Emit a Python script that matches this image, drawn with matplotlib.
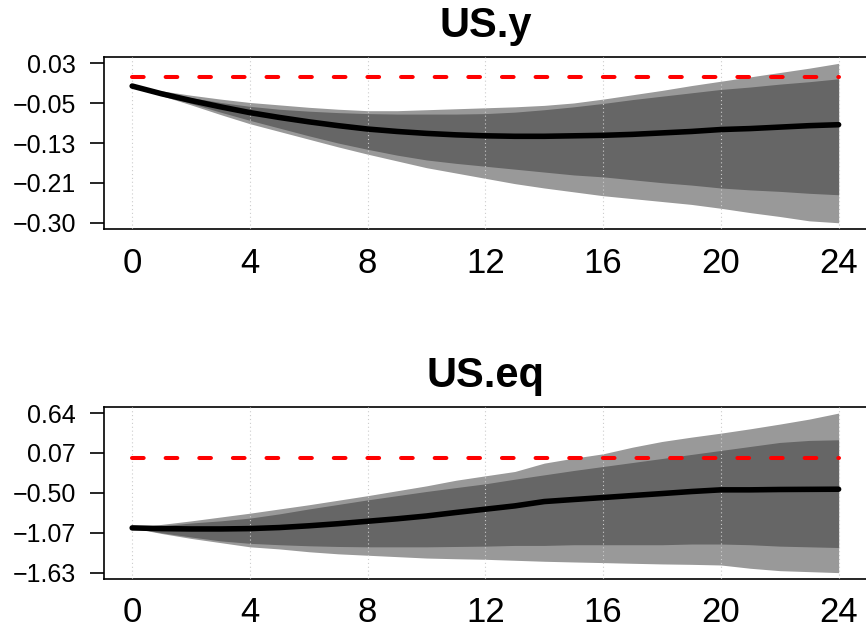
import numpy as np
import matplotlib
matplotlib.use("Agg")
import matplotlib.pyplot as plt

# horizons
steps = list(range(0, 25))
xticks = [0, 4, 8, 12, 16, 20, 24]

# US.y impulse response: median and two bands
usy_mid = [-0.019, -0.035, -0.049, -0.062, -0.074, -0.084, -0.093, -0.101, -0.108, -0.113, -0.117, -0.120,
           -0.122, -0.123, -0.123, -0.122, -0.121, -0.119, -0.116, -0.113, -0.109, -0.107, -0.104, -0.101, -0.099]
usy_hi68 = [-0.019, -0.032, -0.043, -0.053, -0.061, -0.067, -0.071, -0.074, -0.076, -0.077, -0.077, -0.077,
            -0.076, -0.073, -0.068, -0.062, -0.055, -0.047, -0.040, -0.033, -0.026, -0.021, -0.015, -0.010, -0.004]
usy_lo68 = [-0.019, -0.037, -0.055, -0.073, -0.090, -0.106, -0.122, -0.137, -0.150, -0.162, -0.172, -0.179,
            -0.185, -0.191, -0.197, -0.203, -0.207, -0.213, -0.219, -0.224, -0.230, -0.234, -0.237, -0.241, -0.244]
usy_hi95 = [-0.019, -0.029, -0.038, -0.046, -0.053, -0.058, -0.063, -0.067, -0.070, -0.070, -0.068, -0.066,
            -0.064, -0.062, -0.059, -0.054, -0.046, -0.037, -0.028, -0.018, -0.009, 0.000, 0.009, 0.018, 0.028]
usy_lo95 = [-0.019, -0.039, -0.058, -0.078, -0.097, -0.113, -0.129, -0.145, -0.160, -0.174, -0.188, -0.199,
            -0.210, -0.221, -0.230, -0.238, -0.246, -0.252, -0.258, -0.264, -0.272, -0.281, -0.289, -0.298, -0.302]
usy_ticklabels = ["0.03", "\u22120.05", "\u22120.13", "\u22120.21", "\u22120.30"]

# US.eq impulse response
useq_mid = [-1.000, -1.010, -1.015, -1.015, -1.010, -0.995, -0.970, -0.940, -0.905, -0.870, -0.830, -0.780,
            -0.733, -0.686, -0.624, -0.595, -0.567, -0.538, -0.510, -0.481, -0.457, -0.457, -0.452, -0.450, -0.448]
useq_hi68 = [-1.000, -0.970, -0.930, -0.900, -0.860, -0.800, -0.730, -0.665, -0.600, -0.540, -0.480, -0.425,
             -0.371, -0.305, -0.243, -0.181, -0.124, -0.067, -0.010, 0.048, 0.105, 0.162, 0.219, 0.248, 0.257]
useq_lo68 = [-1.000, -1.070, -1.130, -1.185, -1.220, -1.240, -1.255, -1.265, -1.270, -1.270, -1.270, -1.265,
             -1.260, -1.250, -1.250, -1.240, -1.240, -1.240, -1.240, -1.230, -1.230, -1.240, -1.260, -1.270, -1.280]
useq_hi95 = [-1.000, -0.950, -0.900, -0.845, -0.790, -0.730, -0.670, -0.605, -0.540, -0.470, -0.400, -0.320,
             -0.257, -0.195, -0.076, -0.005, 0.057, 0.152, 0.233, 0.295, 0.352, 0.414, 0.481, 0.552, 0.638]
useq_lo95 = [-1.000, -1.080, -1.150, -1.210, -1.270, -1.300, -1.340, -1.370, -1.390, -1.410, -1.430, -1.440,
             -1.448, -1.462, -1.476, -1.486, -1.495, -1.505, -1.514, -1.520, -1.529, -1.576, -1.610, -1.624, -1.638]
useq_ticklabels = ["0.64", "0.07", "\u22120.50", "\u22121.07", "\u22121.63"]

LIGHT = "#999999"
DARK = "#666666"

plt.rcParams['font.family'] = ['Liberation Sans', 'DejaVu Sans']

fig = plt.figure(figsize=(8.66, 6.33), dpi=100)


def draw_panel(ax, title, mid, lo68, hi68, lo95, hi95, ylabels):
    x = np.array(steps)
    ax.fill_between(x, lo95, hi95, color=LIGHT, linewidth=0, zorder=1)
    ax.fill_between(x, lo68, hi68, color=DARK, linewidth=0, zorder=2)
    for t in xticks:
        ax.axvline(t, color="#cccccc", linestyle=(0, (1, 2.5)), linewidth=0.8, zorder=3)
    ax.plot(x, [0] * len(x), color="red", linewidth=2.9, dashes=(2.9, 5.45),
            dash_capstyle="round", zorder=4)
    ax.plot(x, mid, color="black", linewidth=4, solid_capstyle="round", zorder=5)

    lo = min(lo95)
    hi = max(hi95)
    rng = hi - lo
    ax.set_ylim(lo - 0.04 * rng, hi + 0.04 * rng)
    ax.set_xlim(-0.96, 24.96)
    ax.set_yticks(np.linspace(hi, lo, 5))
    ax.set_yticklabels(ylabels)
    ax.set_xticks(xticks)
    ax.set_xticklabels([str(t) for t in xticks])

    ax.tick_params(axis="x", length=0, pad=12.5, labelsize=25)
    ax.tick_params(axis="y", length=10, width=1.2, pad=10, labelsize=18)
    for s in ax.spines.values():
        s.set_linewidth(1.2)
    ax.set_title(title, fontsize=30, fontweight="bold", pad=14.5)


ax1 = fig.add_axes([0.120, 0.638, 0.881, 0.272])
draw_panel(ax1, "US.y", usy_mid, usy_lo68, usy_hi68, usy_lo95, usy_hi95, usy_ticklabels)

ax2 = fig.add_axes([0.120, 0.0853, 0.881, 0.2722])
draw_panel(ax2, "US.eq", useq_mid, useq_lo68, useq_hi68, useq_lo95, useq_hi95, useq_ticklabels)

fig.savefig("out.png", dpi=100)
